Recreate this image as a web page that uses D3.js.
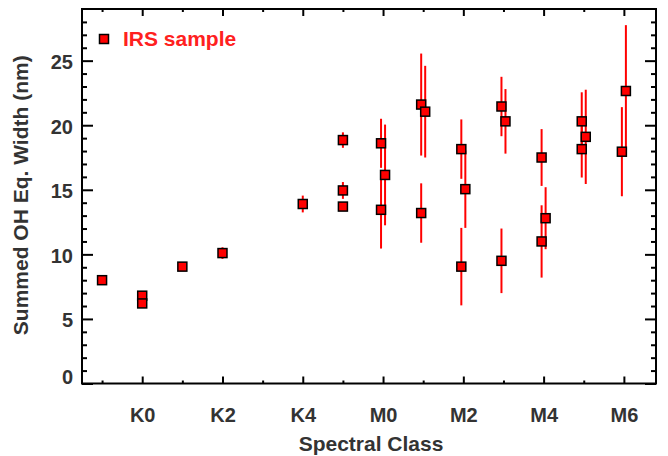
<!DOCTYPE html>
<html>
<head>
<meta charset="utf-8">
<script src="https://cdn.jsdelivr.net/npm/d3@7"></script>
<style>
  html, body { margin: 0; padding: 0; background: #fff; }
  svg { display: block; font-family: "Liberation Sans", Arial, Helvetica, sans-serif; font-weight: bold; }
</style>
</head>
<body>
<svg id="chart" width="668" height="456"></svg>
<script>
// ---- data ----
// spectral class index: K0=0, K1=1, ..., K5=5, M0=6, M1=7, ... M6=12 (G9 = -1)
const spectralIndex = [-1.0, 0.0, 0.0, 1.0, 2.0, 4.0, 5.0, 5.0, 5.0,
  5.95, 6.05, 5.95, 6.95, 7.05, 6.95, 7.95, 8.05, 7.95,
  8.95, 9.05, 8.95, 9.95, 10.05, 9.95, 10.95, 11.05, 10.95, 12.05, 11.95];
const ohWidth = [8.0, 6.8, 6.2, 9.05, 10.1, 13.9, 18.85, 14.95, 13.7,
  18.6, 16.15, 13.45, 21.6, 21.05, 13.2, 18.15, 15.05, 9.05,
  21.45, 20.3, 9.5, 17.5, 12.8, 11.0, 20.3, 19.1, 18.15, 22.65, 17.95];
const ohError = [0.2, 0.3, 0.3, 0.2, 0.45, 0.65, 0.6, 0.65, 0.2,
  1.9, 3.9, 3.0, 3.95, 3.55, 2.3, 2.3, 3.0, 3.0,
  2.3, 2.5, 2.5, 2.2, 2.4, 2.8, 2.25, 3.65, 2.2, 5.1, 3.45];
const xMajorTicks = [0, 2, 4, 6, 8, 10, 12];
const xMajorLabels = ["K0", "K2", "K4", "M0", "M2", "M4", "M6"];
const xMinorTicks = [-1, 1, 3, 5, 7, 9, 11];
const yMajorTicks = [0, 5, 10, 15, 20, 25];
const yMinorTicks = [1,2,3,4,6,7,8,9,11,12,13,14,16,17,18,19,21,22,23,24,26,27,28];
const legendLabel = "IRS sample";
const xTitle = "Spectral Class";
const yTitle = "Summed OH Eq. Width (nm)";

// ---- layout ----
const svg = d3.select("#chart");
const L = 82, R = 656, T = 9, B = 383.5;
const x = d3.scaleLinear().domain([-1.5, 12.8]).range([L, R]);
const y = d3.scaleLinear().domain([0, 29]).range([B, T]);
const rows = spectralIndex.map((s, i) => ({ s, v: ohWidth[i], e: ohError[i] }));

function styleAxis(g) {
  g.select(".domain").remove();
  g.selectAll(".tick line").attr("stroke", "#000").attr("stroke-width", 2);
  g.selectAll(".tick text").attr("fill", "#333").attr("font-size", 20)
    .attr("font-family", "Liberation Sans, Arial, sans-serif").attr("font-weight", "bold");
}

// bottom
svg.append("g").attr("transform", `translate(0,${B})`)
  .call(d3.axisBottom(x).tickValues(xMajorTicks).tickSizeInner(-7).tickSizeOuter(0).tickPadding(24)
    .tickFormat((d, i) => xMajorLabels[i])).call(styleAxis);
svg.append("g").attr("transform", `translate(0,${B})`)
  .call(d3.axisBottom(x).tickValues(xMinorTicks).tickSizeInner(-3).tickSizeOuter(0).tickFormat("")).call(styleAxis);
// top
svg.append("g").attr("transform", `translate(0,${T})`)
  .call(d3.axisTop(x).tickValues(xMajorTicks).tickSizeInner(-7).tickSizeOuter(0).tickFormat("")).call(styleAxis);
svg.append("g").attr("transform", `translate(0,${T})`)
  .call(d3.axisTop(x).tickValues(xMinorTicks).tickSizeInner(-3).tickSizeOuter(0).tickFormat("")).call(styleAxis);
// left
const yl = svg.append("g").attr("transform", `translate(${L},0)`)
  .call(d3.axisLeft(y).tickValues(yMajorTicks).tickSizeInner(-11).tickSizeOuter(0).tickPadding(9)
    .tickFormat(d3.format("d"))).call(styleAxis);
yl.selectAll(".tick text").attr("dy", d => d === 0 ? "0em" : "0.4em");
svg.append("g").attr("transform", `translate(${L},0)`)
  .call(d3.axisLeft(y).tickValues(yMinorTicks).tickSizeInner(-5).tickSizeOuter(0).tickFormat("")).call(styleAxis);
// right
svg.append("g").attr("transform", `translate(${R},0)`)
  .call(d3.axisRight(y).tickValues(yMajorTicks).tickSizeInner(-11).tickSizeOuter(0).tickFormat("")).call(styleAxis);
svg.append("g").attr("transform", `translate(${R},0)`)
  .call(d3.axisRight(y).tickValues(yMinorTicks).tickSizeInner(-5).tickSizeOuter(0).tickFormat("")).call(styleAxis);

// frame
svg.append("rect").attr("x", L).attr("y", T).attr("width", R - L).attr("height", B - T)
  .attr("fill", "none").attr("stroke", "#000").attr("stroke-width", 2);

// error bars
svg.append("g").selectAll("line").data(rows).join("line")
  .attr("x1", d => x(d.s)).attr("x2", d => x(d.s))
  .attr("y1", d => y(d.v - d.e)).attr("y2", d => y(d.v + d.e))
  .attr("stroke", "#ff0000").attr("stroke-width", 2);

// markers
const S = 9;
svg.append("g").selectAll("rect").data(rows).join("rect")
  .attr("x", d => x(d.s) - S / 2).attr("y", d => y(d.v) - S / 2)
  .attr("width", S).attr("height", S)
  .attr("fill", "#ff0000").attr("stroke", "#000").attr("stroke-width", 1.5);

// legend
svg.append("rect").attr("x", 104 - S / 2).attr("y", 39 - S / 2).attr("width", S).attr("height", S)
  .attr("fill", "#ff0000").attr("stroke", "#000").attr("stroke-width", 1.5);
svg.append("text").attr("x", 123).attr("y", 46).attr("fill", "#ff2020")
  .attr("font-size", 21).text(legendLabel);

// titles
svg.append("text").attr("x", (L + R) / 2 + 2).attr("y", 451).attr("text-anchor", "middle")
  .attr("fill", "#333").attr("font-size", 21).text(xTitle);
svg.append("text").attr("transform", `translate(28,${(T + B) / 2 - 1}) rotate(-90)`)
  .attr("text-anchor", "middle").attr("fill", "#333").attr("font-size", 21).text(yTitle);
</script>
</body>
</html>
